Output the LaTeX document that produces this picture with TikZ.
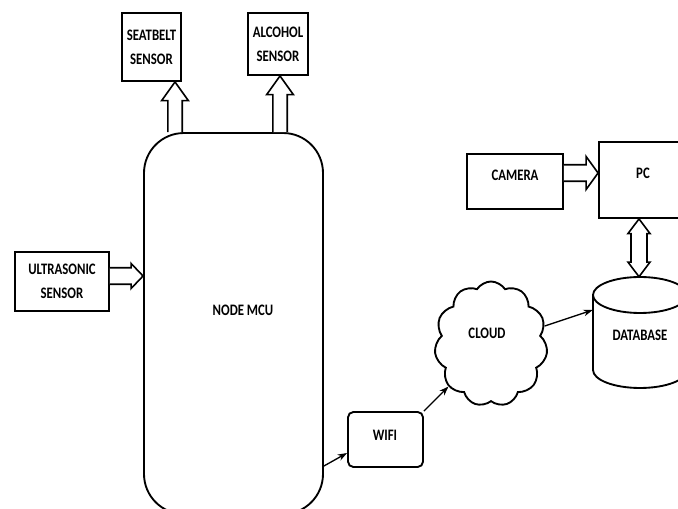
\documentclass[tikz,border=0pt]{standalone}
\usepackage{fontspec}
\newfontfamily\lblfont{Carlito}[FakeStretch=0.8]
\usetikzlibrary{calc,shapes.symbols,arrows.meta}
\tikzset{
  lbl/.style={font=\lblfont\bfseries\fontsize{12pt}{18pt}\selectfont, align=center},
  box/.style={draw, line width=1.4pt, fill=white, inner sep=0pt, lbl},
  hollow/.style={draw, line width=1.2pt, fill=white, line join=miter},
  thin/.style={line width=1pt, -{Stealth[length=7pt,width=5pt]}},
}
% #1 start, #2 tip, #3 shaft half width, #4 head half width, #5 head length
\newcommand\harrow[5]{%
  \coordinate (hA) at #1; \coordinate (hB) at #2;
  \coordinate (hH) at ($(hB)!#5!(hA)$);
  \draw[hollow] ($(hA)!#3!90:(hB)$) -- ($(hH)!#3!90:(hB)$) -- ($(hH)!#4!90:(hB)$)
     -- (hB) -- ($(hH)!#4!-90:(hB)$) -- ($(hH)!#3!-90:(hB)$) -- ($(hA)!#3!-90:(hB)$);
}
\newcommand\hdarrow[5]{%
  \coordinate (hA) at #1; \coordinate (hB) at #2;
  \coordinate (hH) at ($(hB)!#5!(hA)$);
  \coordinate (hG) at ($(hA)!#5!(hB)$);
  \draw[hollow] (hA) -- ($(hG)!#4!90:(hB)$) -- ($(hG)!#3!90:(hB)$) -- ($(hH)!#3!90:(hB)$)
     -- ($(hH)!#4!90:(hB)$) -- (hB) -- ($(hH)!#4!-90:(hB)$) -- ($(hH)!#3!-90:(hB)$)
     -- ($(hG)!#3!-90:(hB)$) -- ($(hG)!#4!-90:(hB)$) -- cycle;
}
\begin{document}
\begin{tikzpicture}[x=0.75pt,y=-0.75pt]
\useasboundingbox (0,0) rectangle (678,509);
\clip (0,0) rectangle (678,509);
\fill[white] (0,0) rectangle (678,509);

% nodes
\node[box, minimum width=59*0.75pt, minimum height=68*0.75pt] (sb) at (151.5,47) {SEATBELT\\SENSOR};
\node[box, minimum width=60*0.75pt, minimum height=62*0.75pt] (al) at (278,44) {ALCOHOL\\SENSOR};
\node[box, minimum width=94*0.75pt, minimum height=59*0.75pt] (us) at (62,281.5) {ULTRASONIC\\SENSOR};
\node[draw, line width=1.4pt, fill=white, rounded corners=30pt, minimum width=179*0.75pt, minimum height=381*0.75pt] (mcu) at (233.5,323.5) {};
\node[lbl] (mcutext) at (243,310) {NODE MCU};
\node[draw, line width=1.4pt, fill=white, rounded corners=4pt, minimum width=75*0.75pt, minimum height=55*0.75pt] (wifi) at (385.5,439.5) {};
\node[lbl] (wifitext) at (385,435) {WIFI};
\node[draw, line width=1.4pt, fill=white, cloud, cloud puffs=11, cloud puff arc=115, aspect=0.9,
      minimum width=113*0.75pt, minimum height=125*0.75pt] (cloud) at (491,344) {};
\node[lbl] (cloudtext) at (487,333) {CLOUD};
\node[box, minimum width=96*0.75pt, minimum height=55*0.75pt] (cam) at (515,181.5) {};
\node[lbl] (camtext) at (515,175) {CAMERA};
\node[box, minimum width=88*0.75pt, minimum height=76*0.75pt] (pc) at (643,180) {};
\node[lbl] (pctext) at (643,173) {PC};

% database cylinder
\node[minimum width=94*0.75pt, minimum height=111*0.75pt, inner sep=0pt] (db) at (640,332.5) {};
\draw[line width=1.4pt, fill=white] (593,295) -- (593,370)
   arc[start angle=180, end angle=360, x radius=35.25pt, y radius=13.5pt] -- (687,295)
   arc[start angle=0, end angle=180, x radius=35.25pt, y radius=13.5pt] -- cycle;
\draw[line width=1.4pt] (593,295) arc[start angle=180, end angle=360, x radius=35.25pt, y radius=13.5pt];
\node[lbl] (dbtext) at (640,335) {DATABASE};

% hollow arrows
\harrow{(175,0 |- mcu.north)}{(175,0 |- sb.south)}{5.4pt}{10pt}{14pt}
\harrow{(280,0 |- mcu.north)}{(280,0 |- al.south)}{5.4pt}{10pt}{14pt}
\harrow{(us.east |- 0,276)}{(mcu.west |- 0,276)}{6.2pt}{9.4pt}{9pt}
\harrow{(cam.east |- 0,173)}{(pc.west |- 0,173)}{6.2pt}{12.4pt}{9pt}
\hdarrow{(639,0 |- pc.south)}{(639,0 |- db.north)}{6pt}{8.3pt}{11pt}

% thin arrows
\draw[thin] (mcu.east |- 0,466) -- (wifi.west |- 0,453);
\draw[thin] (wifi.north east) -- (cloud);
\draw[thin] (cloud) -- (db.west |- 0,310);
\end{tikzpicture}
\end{document}
